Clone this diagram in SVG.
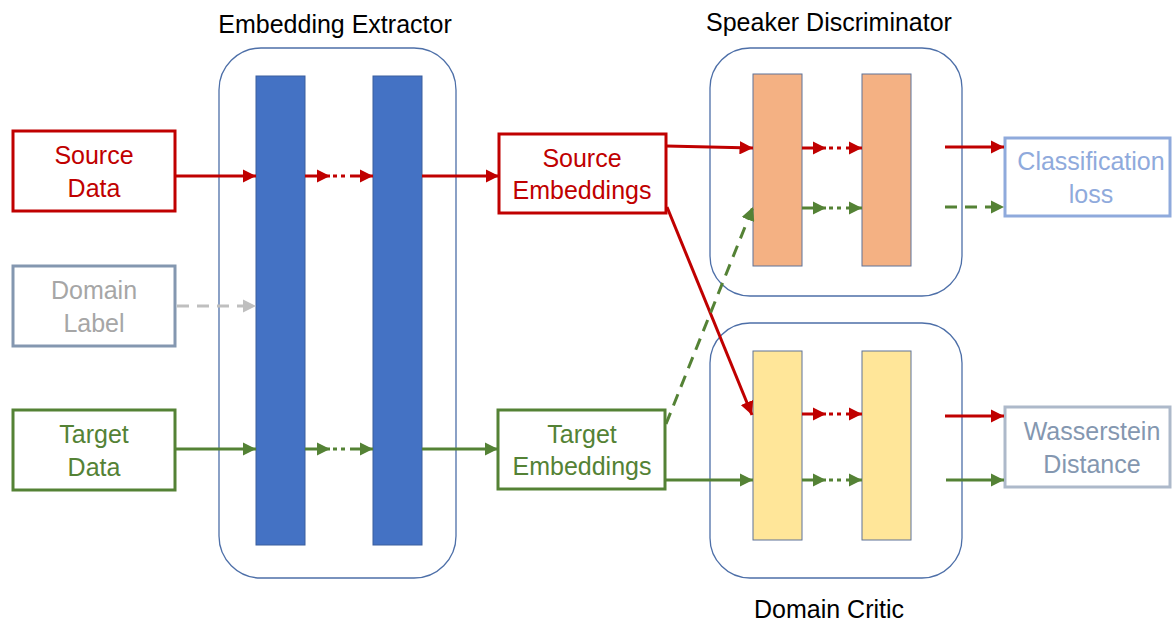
<svg xmlns="http://www.w3.org/2000/svg" width="1172" height="622" viewBox="0 0 1172 622">
<style>
text{font-family:"Liberation Sans",Arial,sans-serif;text-anchor:middle}
.title{font-size:25px;fill:#000}
.lbl{font-size:25px}
.cont{fill:none;stroke:#4D6FA8;stroke-width:1.3}
.blue{fill:#4472C4;stroke:#3A5E9E;stroke-width:1}
.orange{fill:#F4B183;stroke:#5F7398;stroke-width:1}
.yellow{fill:#FFE699;stroke:#5F7398;stroke-width:1}
.r{stroke:#C00000;stroke-width:3;fill:none}
.g{stroke:#548235;stroke-width:3;fill:none}
.gd{stroke:#548235;stroke-width:3;fill:none;stroke-dasharray:12 8}
.gr{stroke:#BFBFBF;stroke-width:3;fill:none;stroke-dasharray:12 8}
.dot{stroke-width:3;fill:none;stroke-dasharray:4 4}
</style>
<defs>
<marker id="ar" viewBox="0 0 10 10" refX="10" refY="5" markerWidth="4.5" markerHeight="4.5" orient="auto" markerUnits="strokeWidth"><path d="M0 0L10 5L0 10z" fill="#C00000"/></marker>
<marker id="ag" viewBox="0 0 10 10" refX="10" refY="5" markerWidth="4.5" markerHeight="4.5" orient="auto" markerUnits="strokeWidth"><path d="M0 0L10 5L0 10z" fill="#548235"/></marker>
<marker id="agr" viewBox="0 0 10 10" refX="10" refY="5" markerWidth="4.5" markerHeight="4.5" orient="auto" markerUnits="strokeWidth"><path d="M0 0L10 5L0 10z" fill="#BFBFBF"/></marker>
</defs>

<g id="embedding-extractor">
<rect class="cont" x="219" y="48" width="237" height="530" rx="42"/>
<rect class="blue" x="256" y="76" width="49" height="469"/>
<rect class="blue" x="373" y="76" width="49" height="469"/>
<text class="title" x="335" y="33">Embedding Extractor</text>
</g>

<g id="speaker-discriminator">
<rect class="cont" x="710" y="48" width="252" height="248" rx="40"/>
<rect class="orange" x="753" y="74" width="49" height="192"/>
<rect class="orange" x="862" y="74" width="49" height="192"/>
<text class="title" x="829" y="31">Speaker Discriminator</text>
</g>

<g id="domain-critic">
<rect class="cont" x="710" y="323" width="252" height="255" rx="40"/>
<rect class="yellow" x="753" y="351" width="49" height="189"/>
<rect class="yellow" x="862" y="351" width="49" height="189"/>
<text class="title" x="829" y="618">Domain Critic</text>
</g>

<g id="source-data">
<rect x="13" y="131" width="162" height="80" fill="#fff" stroke="#C00000" stroke-width="3"/>
<text class="lbl" x="94" y="164" fill="#C00000">Source</text>
<text class="lbl" x="94" y="197" fill="#C00000">Data</text>
</g>

<g id="domain-label">
<rect x="13" y="266" width="162" height="80" fill="#fff" stroke="#8497B0" stroke-width="3"/>
<text class="lbl" x="94" y="299" fill="#A6A6A6">Domain</text>
<text class="lbl" x="94" y="332" fill="#A6A6A6">Label</text>
</g>

<g id="target-data">
<rect x="13" y="410" width="162" height="80" fill="#fff" stroke="#548235" stroke-width="3"/>
<text class="lbl" x="94" y="443" fill="#548235">Target</text>
<text class="lbl" x="94" y="476" fill="#548235">Data</text>
</g>

<g id="source-embeddings">
<rect x="499" y="134" width="167" height="79" fill="#fff" stroke="#C00000" stroke-width="3"/>
<text class="lbl" x="582" y="167" fill="#C00000">Source</text>
<text class="lbl" x="582" y="199" fill="#C00000">Embeddings</text>
</g>

<g id="target-embeddings">
<rect x="498" y="410" width="167" height="79" fill="#fff" stroke="#548235" stroke-width="3"/>
<text class="lbl" x="582" y="443" fill="#548235">Target</text>
<text class="lbl" x="582" y="475" fill="#548235">Embeddings</text>
</g>

<g id="classification-loss">
<rect x="1005" y="138" width="165" height="78" fill="#fff" stroke="#8FAADC" stroke-width="3"/>
<text class="lbl" x="1091" y="170" fill="#8FAADC">Classification</text>
<text class="lbl" x="1091" y="203" fill="#8FAADC">loss</text>
</g>

<g id="wasserstein-distance">
<rect x="1005" y="407" width="165" height="80" fill="#fff" stroke="#ADB9CA" stroke-width="3"/>
<text class="lbl" x="1092" y="440" fill="#8497B0">Wasserstein</text>
<text class="lbl" x="1092" y="473" fill="#8497B0">Distance</text>
</g>

<g id="connectors">
<line class="r" x1="175" y1="176" x2="256" y2="176" marker-end="url(#ar)"/>
<line class="gr" x1="177" y1="306" x2="256" y2="306" marker-end="url(#agr)"/>
<line class="g" x1="175" y1="449" x2="256" y2="449" marker-end="url(#ag)"/>

<line class="r" x1="305" y1="176" x2="330" y2="176" marker-end="url(#ar)"/>
<line class="r dot" x1="333" y1="176" x2="349" y2="176"/>
<line class="r" x1="350" y1="176" x2="373" y2="176" marker-end="url(#ar)"/>
<line class="g" x1="305" y1="449" x2="330" y2="449" marker-end="url(#ag)"/>
<line class="g dot" x1="333" y1="449" x2="349" y2="449"/>
<line class="g" x1="350" y1="449" x2="373" y2="449" marker-end="url(#ag)"/>

<line class="r" x1="422" y1="176" x2="499" y2="176" marker-end="url(#ar)"/>
<line class="g" x1="422" y1="449" x2="498" y2="449" marker-end="url(#ag)"/>

<line class="r" x1="666" y1="146" x2="753" y2="148" marker-end="url(#ar)"/>
<line class="r" x1="667" y1="207" x2="752" y2="415" marker-end="url(#ar)"/>
<line class="gd" x1="666" y1="424" x2="753" y2="207" marker-end="url(#ag)"/>
<line class="g" x1="665" y1="480" x2="753" y2="480" marker-end="url(#ag)"/>

<line class="r" x1="802" y1="148" x2="826" y2="148" marker-end="url(#ar)"/>
<line class="r dot" x1="829" y1="148" x2="845" y2="148"/>
<line class="r" x1="846" y1="148" x2="862" y2="148" marker-end="url(#ar)"/>
<line class="g" x1="802" y1="208" x2="826" y2="208" marker-end="url(#ag)"/>
<line class="g dot" x1="829" y1="208" x2="845" y2="208"/>
<line class="g" x1="846" y1="208" x2="862" y2="208" marker-end="url(#ag)"/>

<line class="r" x1="802" y1="414" x2="826" y2="414" marker-end="url(#ar)"/>
<line class="r dot" x1="829" y1="414" x2="845" y2="414"/>
<line class="r" x1="846" y1="414" x2="862" y2="414" marker-end="url(#ar)"/>
<line class="g" x1="802" y1="480" x2="826" y2="480" marker-end="url(#ag)"/>
<line class="g dot" x1="829" y1="480" x2="845" y2="480"/>
<line class="g" x1="846" y1="480" x2="862" y2="480" marker-end="url(#ag)"/>

<line class="r" x1="945" y1="147" x2="1004" y2="147" marker-end="url(#ar)"/>
<line class="gd" x1="945" y1="207" x2="1004" y2="207" marker-end="url(#ag)"/>
<line class="r" x1="945" y1="416" x2="1004" y2="416" marker-end="url(#ar)"/>
<line class="g" x1="946" y1="480" x2="1004" y2="480" marker-end="url(#ag)"/>
</g>
</svg>
